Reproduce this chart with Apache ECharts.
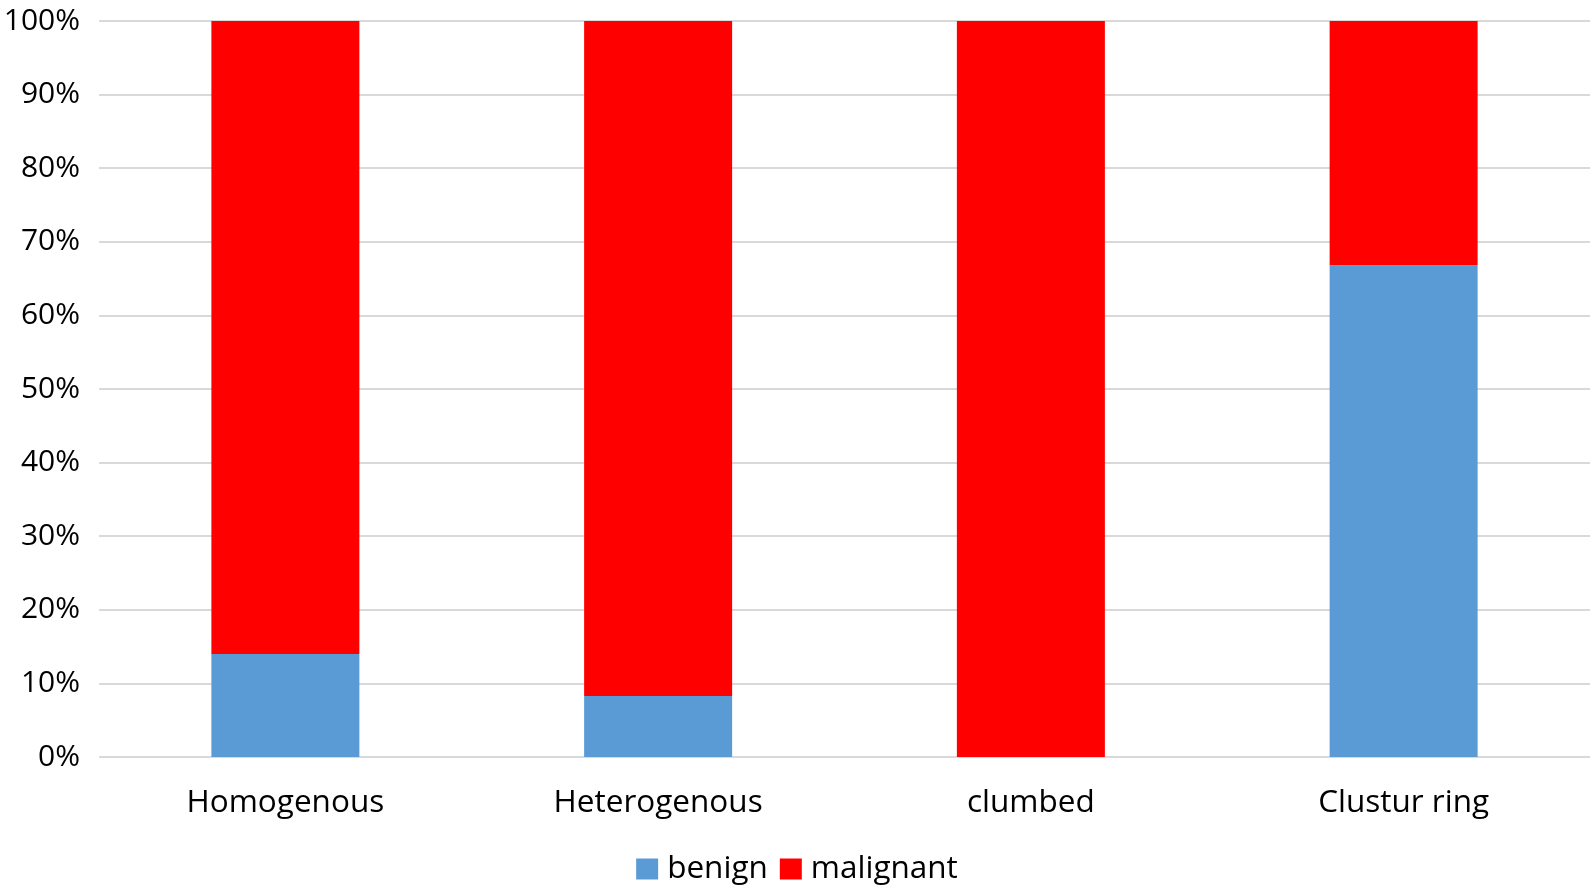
<!DOCTYPE html>
<html>
<head>
<meta charset="utf-8">
<script src="https://cdn.jsdelivr.net/npm/echarts@6/dist/echarts.min.js"></script>
<style>
html,body{margin:0;padding:0;background:#fff;}
#chart{width:1594px;height:890px;}
</style>
</head>
<body>
<div id="chart"></div>
<script>
const categories = ['Homogenous', 'Heterogenous', 'clumbed', 'Clustur ring'];
const benign = [14, 8.3, 0, 66.8];
const malignant = [86, 91.7, 100, 33.2];
const yTicks = [0, 10, 20, 30, 40, 50, 60, 70, 80, 90, 100];

const font = 'Open Sans';
const chart = echarts.init(document.getElementById('chart'));
chart.setOption({
  animation: false,
  backgroundColor: '#fff',
  textStyle: { fontFamily: font },
  grid: { left: 99, right: 4, top: 21, bottom: 133, containLabel: false },
  legend: {
    data: ['benign', 'malignant'],
    bottom: 0,
    left: 'center',
    itemWidth: 22,
    itemHeight: 21,
    itemGap: 12,
    icon: 'rect',
    textStyle: { fontSize: 31.5, color: '#000', fontFamily: font, padding: [0, 0, 0, 4] }
  },
  xAxis: {
    type: 'category',
    data: categories,
    axisLine: { show: false },
    axisTick: { show: false },
    axisLabel: { fontSize: 31.5, color: '#000', margin: 30, fontFamily: font }
  },
  yAxis: {
    type: 'value',
    min: 0,
    max: 100,
    interval: 10,
    axisLine: { show: false },
    axisTick: { show: false },
    axisLabel: {
      fontSize: 30, color: '#000', margin: 19, fontFamily: font,
      formatter: v => yTicks.includes(v) ? v + '%' : ''
    },
    splitLine: { lineStyle: { color: '#d9d9d9', width: 2 } }
  },
  series: [
    { name: 'benign', type: 'bar', stack: 'total', data: benign, barWidth: 148,
      itemStyle: { color: '#5B9BD5' } },
    { name: 'malignant', type: 'bar', stack: 'total', data: malignant, barWidth: 148,
      itemStyle: { color: '#FF0000' } }
  ]
});
</script>
</body>
</html>
